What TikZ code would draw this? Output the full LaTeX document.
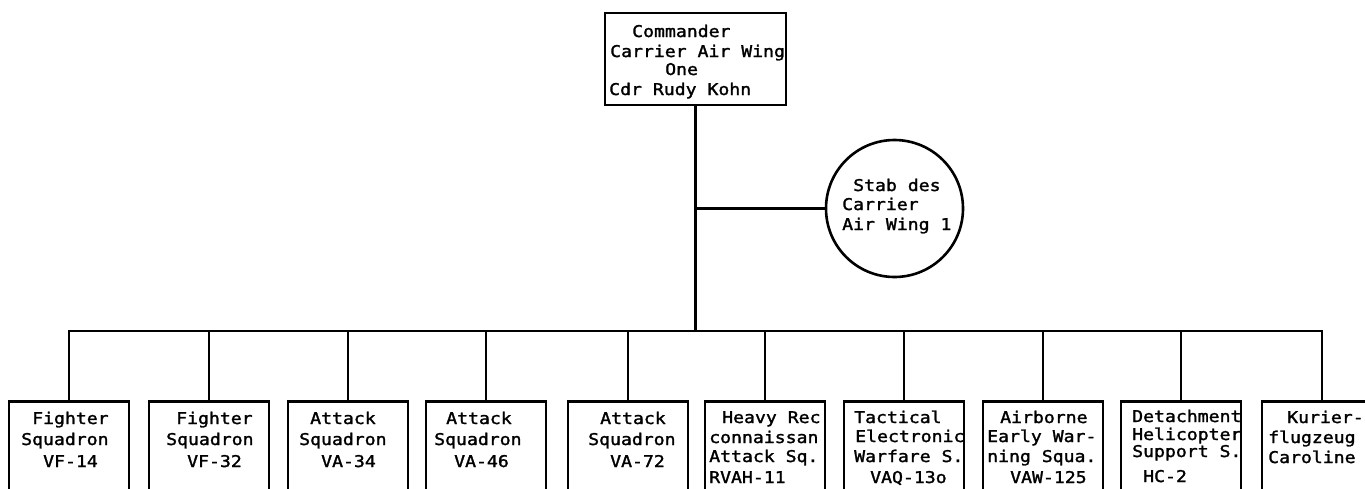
\documentclass[tikz,border=0pt]{standalone}
\usepackage{fontspec}
\newfontfamily\plotfont[FakeStretch=1.12,FakeBold=1.6]{DejaVu Sans Mono}
\newcommand\txtline[4]{\node[txt] (#1) at (#2,#3) {#4};}
\begin{document}
\begin{tikzpicture}[x=1pt,y=-1pt,
  conn/.style={line width=2.6pt},
  sqbox/.style={draw,line width=2.6pt,minimum width=120pt,minimum height=130pt,anchor=north,inner sep=0pt},
  txt/.style={anchor=base west,inner sep=0pt,font=\plotfont\fontsize{16.2}{20}\selectfont}]
\useasboundingbox (0,0) rectangle (1365,488);
\clip (0,0) rectangle (1365,488);
% main nodes
\node[draw,line width=2.6pt,minimum width=181pt,minimum height=92pt,inner sep=0pt] (cmd) at (695.5,59) {};
\node[draw,circle,line width=2.6pt,minimum size=137pt,inner sep=0pt] (stab) at (894.5,208.5) {};
\coordinate (bus) at (695.5,331);
\node[sqbox] (b1) at (69,400) {};
\node[sqbox] (b2) at (209,400) {};
\node[sqbox] (b3) at (348,400) {};
\node[sqbox] (b4) at (486,400) {};
\node[sqbox] (b5) at (628,400) {};
\node[sqbox] (b6) at (765,400) {};
\node[sqbox] (b7) at (904,400) {};
\node[sqbox] (b8) at (1043,400) {};
\node[sqbox] (b9) at (1181,400) {};
\node[sqbox] (b10) at (1322,400) {};
% connectors
\draw[conn] (cmd.south) -- (cmd.south |- bus);
\draw[conn] (stab.west) -- (cmd.south |- stab.west);
\draw[conn] (b1.north) |- (bus) -| (b10.north);
\foreach \i in {2,...,9} \draw[conn] (b\i.north) -- (b\i.north |- bus);
% texts
\txtline{c1}{632}{37}{Commander}
\txtline{c2}{610}{57}{Carrier Air Wing}
\txtline{c3}{665}{75}{One}
\txtline{c4}{609}{95}{Cdr Rudy Kohn}
\txtline{s1}{853}{191}{Stab des}
\txtline{s2}{842}{210}{Carrier}
\txtline{s3}{842}{230}{Air Wing 1}
\txtline{t1a}{32}{424}{Fighter}
\txtline{t1b}{21}{445}{Squadron}
\txtline{t1c}{43}{467}{VF-14}
\txtline{t2a}{176}{424}{Fighter}
\txtline{t2b}{166}{445}{Squadron}
\txtline{t2c}{187}{467}{VF-32}
\txtline{t3a}{310}{424}{Attack}
\txtline{t3b}{299}{445}{Squadron}
\txtline{t3c}{321}{467}{VA-34}
\txtline{t4a}{446}{424}{Attack}
\txtline{t4b}{434}{445}{Squadron}
\txtline{t4c}{454}{467}{VA-46}
\txtline{t5a}{600}{424}{Attack}
\txtline{t5b}{588}{445}{Squadron}
\txtline{t5c}{610}{467}{VA-72}
\txtline{t6a}{722}{423}{Heavy Rec}
\txtline{t6b}{709}{443}{connaissan}
\txtline{t6c}{709}{462}{Attack Sq.}
\txtline{t6d}{709}{483}{RVAH-11}
\txtline{t7a}{854}{423}{Tactical}
\txtline{t7b}{855}{442}{Electronic}
\txtline{t7c}{854}{462}{Warfare S.}
\txtline{t7d}{870}{483}{VAQ-13o}
\txtline{t8a}{1000}{423}{Airborne}
\txtline{t8b}{987}{442}{Early War-}
\txtline{t8c}{987}{462}{ning Squa.}
\txtline{t8d}{1010}{483}{VAW-125}
\txtline{t9a}{1132}{422}{Detachment}
\txtline{t9b}{1132}{440}{Helicopter}
\txtline{t9c}{1132}{457}{Support S.}
\txtline{t9d}{1143}{482}{HC-2}
\txtline{t10a}{1287}{423}{Kurier-}
\txtline{t10b}{1268}{443}{flugzeug}
\txtline{t10c}{1268}{463}{Caroline}
\end{tikzpicture}
\end{document}
